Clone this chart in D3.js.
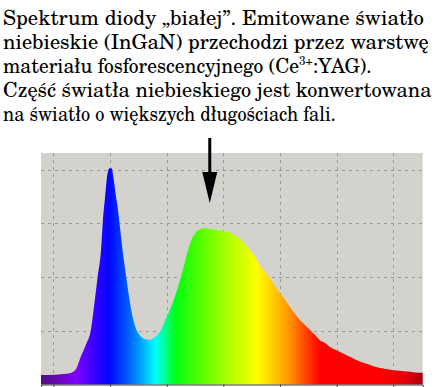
<!DOCTYPE html>
<html>
<head>
<meta charset="utf-8">
<script src="https://cdn.jsdelivr.net/npm/d3@7"></script>
<style>
  body { margin: 0; background: #fff; }
  svg { display: block; }
</style>
</head>
<body>
<svg id="chart" width="437" height="387"></svg>
<script>
// caption lines (Polish), "|" marks the superscript
var captionLines = [
  "Spektrum diody \u201Ebiałej\u201D. Emitowane światło",
  "niebieskie (InGaN) przechodzi przez warstwę",
  "materiału fosforescencyjnego (Ce|3+|:YAG).",
  "Część światła niebieskiego jest konwertowana",
  "na światło o większych długościach fali."
];
var captionWidths = [421, 426, 369, 429, 333];

// spectrum: wavelength (nm) and relative intensity
var wavelength = [389, 401, 408, 415, 420, 424, 428.5, 433, 436.5, 439, 442, 443.5, 445.5, 447, 449, 450.5,
  451.5, 453, 455, 457, 458.5, 461, 464, 466.5, 469, 472, 476, 480.5, 485, 489.5, 494, 498, 503, 507,
  511.5, 516, 518.5, 521, 525, 529, 533.5, 538, 542.5, 547, 551, 555.5, 560, 564.5, 569, 573.5, 578,
  582, 586.5, 591, 595.5, 600, 604.5, 608.5, 613, 617.5, 622, 626.5, 631, 635, 639.5, 644, 648.5, 653,
  657.5, 662, 666, 670.5, 675, 679.5, 684, 691, 699, 706, 713, 719, 726];
var intensity = [0.035, 0.036, 0.039, 0.043, 0.058, 0.102, 0.147, 0.203, 0.315, 0.400, 0.501, 0.601, 0.695, 0.762, 0.803, 0.806,
  0.803, 0.769, 0.706, 0.650, 0.594, 0.501, 0.408, 0.333, 0.270, 0.218, 0.184, 0.169, 0.166, 0.177, 0.196, 0.233, 0.280, 0.325,
  0.385, 0.455, 0.495, 0.530, 0.562, 0.578, 0.582, 0.580, 0.577, 0.574, 0.571, 0.566, 0.557, 0.543, 0.523, 0.501, 0.475,
  0.445, 0.421, 0.396, 0.367, 0.340, 0.315, 0.290, 0.264, 0.240, 0.222, 0.203, 0.184, 0.166, 0.155, 0.140, 0.130, 0.121,
  0.112, 0.102, 0.094, 0.086, 0.079, 0.073, 0.066, 0.060, 0.054, 0.051, 0.048, 0.045, 0.044];

// rainbow fill
var colorNm = [389, 402, 420, 440, 450, 465, 478, 490, 500, 508, 530, 555, 580, 595, 610, 623, 636, 690, 712, 726];
var colorHex = ["#560c86", "#6508b0", "#7f00ff", "#2800ff", "#0008ff", "#0058ff", "#00a8ff", "#00ffff", "#00ff7a", "#00ff10",
  "#55ff00", "#b0ff00", "#ffff00", "#ffc800", "#ff8c00", "#ff4000", "#ff0000", "#ff0000", "#e00008", "#a8000e"];

var xTicks = [400, 450, 500, 550, 600, 650, 700];
var yTicks = [0.2, 0.4, 0.6, 0.8];

var svg = d3.select("#chart");

var x = d3.scaleLinear().domain([389, 726]).range([41, 422.7]);
var y = d3.scaleLinear().domain([0, 0.862]).range([384.5, 153]);

// caption
var caption = svg.append("g")
    .attr("font-family", "'TeX Gyre Schola', 'DejaVu Serif', serif")
    .attr("font-size", 20)
    .attr("fill", "#000");

captionLines.forEach(function(line, i) {
  var t = caption.append("text")
      .attr("x", 3)
      .attr("y", 25 + i * 24);
  line.split("|").forEach(function(part, j) {
    var s = t.append("tspan").text(part);
    if (j == 1) s.attr("font-size", 12).attr("dy", -8);
    if (j == 2) s.attr("dy", 8);
  });
  // stretch each line to the width it has in the picture
  var w = t.node().getComputedTextLength();
  t.attr("transform", "translate(3,0) scale(" + (captionWidths[i] / w) + ",1) translate(-3,0)");
});

// plot background
svg.append("rect")
    .attr("x", x.range()[0])
    .attr("y", y.range()[1])
    .attr("width", x.range()[1] - x.range()[0])
    .attr("height", y.range()[0] - y.range()[1])
    .attr("fill", "#d4d2cd");

// grid
var grid = svg.append("g")
    .attr("stroke", "#999")
    .attr("stroke-width", 1)
    .attr("stroke-dasharray", "3,4");

grid.selectAll(".vg").data(xTicks).enter().append("line")
    .attr("x1", function(d) { return Math.round(x(d)) + 0.5; })
    .attr("x2", function(d) { return Math.round(x(d)) + 0.5; })
    .attr("y1", y.range()[1])
    .attr("y2", y.range()[0]);

grid.selectAll(".hg").data(yTicks).enter().append("line")
    .attr("x1", x.range()[0])
    .attr("x2", x.range()[1])
    .attr("y1", function(d) { return Math.round(y(d)) + 0.5; })
    .attr("y2", function(d) { return Math.round(y(d)) + 0.5; });

// gradient along x
var grad = svg.append("defs").append("linearGradient")
    .attr("id", "rainbow")
    .attr("gradientUnits", "userSpaceOnUse")
    .attr("x1", x.range()[0]).attr("x2", x.range()[1])
    .attr("y1", 0).attr("y2", 0);

grad.selectAll("stop").data(colorNm).enter().append("stop")
    .attr("offset", function(d) { return (x(d) - x.range()[0]) / (x.range()[1] - x.range()[0]); })
    .attr("stop-color", function(d, i) { return colorHex[i]; });

var pts = wavelength.map(function(w, i) { return [w, intensity[i]]; });

var area = d3.area()
    .x(function(d) { return x(d[0]); })
    .y0(y(0))
    .y1(function(d) { return y(d[1]); })
    .curve(d3.curveMonotoneX);

svg.append("path")
    .datum(pts)
    .attr("d", area)
    .attr("fill", "url(#rainbow)");

// bottom axis
var axis = svg.append("g")
    .attr("transform", "translate(0," + y(0) + ")")
    .call(d3.axisBottom(x).tickValues(xTicks).tickSize(3).tickFormat(""));
axis.select(".domain").attr("stroke", "#444");
axis.selectAll(".tick line").attr("stroke", "#444");

// arrow pointing at the phosphor hump
var ax = x(538);
svg.append("line")
    .attr("x1", ax).attr("x2", ax)
    .attr("y1", 138).attr("y2", 176)
    .attr("stroke", "#000")
    .attr("stroke-width", 3);

svg.append("path")
    .attr("d", d3.line()([[ax - 7.5, 172], [ax + 7.5, 172], [ax, 203]]) + "Z")
    .attr("fill", "#000");
</script>
</body>
</html>
